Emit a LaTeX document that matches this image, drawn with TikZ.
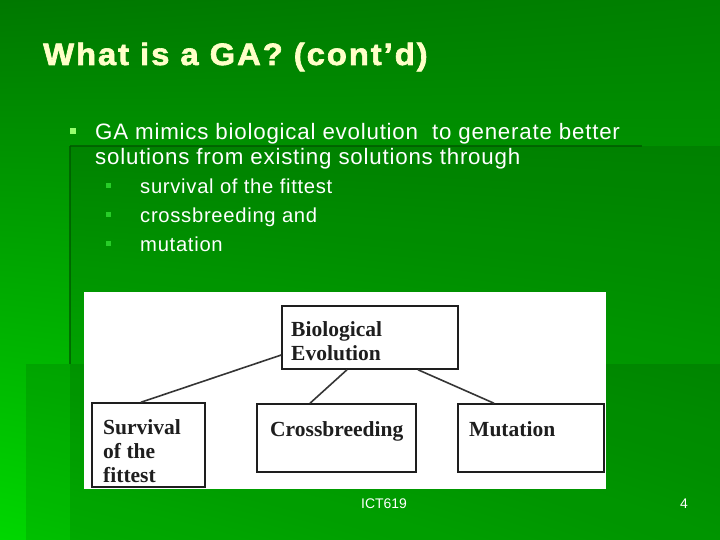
\documentclass[tikz,border=0pt]{standalone}
\usepackage{fontspec}
\usepackage{graphicx}
\usetikzlibrary{shadings}
\setmainfont{Liberation Sans}
\newfontfamily\titlefont[LetterSpace=6,FakeBold=2]{Liberation Sans}
\newfontfamily\bodyfont[LetterSpace=3.5]{Liberation Sans}
\newfontfamily\diagfont{Liberation Serif}
\newfontfamily\footfont{Liberation Sans}
\definecolor{titleyellow}{RGB}{255,255,200}
\definecolor{bgUL}{RGB}{0,120,0}
\definecolor{bgUR}{RGB}{0,128,0}
\definecolor{bgLL}{RGB}{0,215,0}
\definecolor{bgLR}{RGB}{0,185,0}
\definecolor{darkgreen}{RGB}{0,85,0}
\definecolor{bulletlight}{RGB}{150,255,110}
\definecolor{bulletmid}{RGB}{40,205,40}
\definecolor{diagink}{RGB}{30,30,30}
\tikzset{
  titletext/.style={font=\titlefont\bfseries\fontsize{31}{36}\selectfont, text=titleyellow, inner sep=0},
  bodytext/.style={font=\bodyfont\fontsize{22.4}{25}\selectfont, text=white, inner sep=0, align=left},
  subtext/.style={font=\bodyfont\fontsize{20.3}{29}\selectfont, text=white, inner sep=0, align=left},
  bulletA/.style={fill=bulletlight, inner sep=0, minimum size=5.5bp},
  bulletB/.style={fill=bulletmid, inner sep=0, minimum size=5bp},
  dbox/.style={draw=diagink, line width=1.5bp, fill=white, inner sep=0},
  dtext/.style={font=\diagfont\bfseries\fontsize{21.6}{24}\selectfont, text=diagink, inner sep=0, align=left},
  conn/.style={draw=diagink!90, line width=1.6bp},
  foot/.style={font=\footfont\fontsize{14}{16}\selectfont, text=white, inner sep=0},
  darkline/.style={draw=darkgreen, line width=2bp, opacity=0.7}
}
\begin{document}
\begin{tikzpicture}[x=1bp,y=-1bp]
\useasboundingbox (0,0) rectangle (720,540);
% background
\shade[upper left=bgUL, upper right=bgUR, lower left=bgLL, lower right=bgLR] (0,0) rectangle (720,540);
\fill[black,opacity=0.1] (70,146) rectangle (720,540);
\fill[black,opacity=0.1] (26,364) rectangle (720,540);
\draw[darkline] (70,146) -- (642,146);
\draw[darkline] (70,146) -- (70,364);
% title
\node[titletext, anchor=base west] (title) at (43,65) {\scalebox{1.06}[1]{What is a GA? (cont’d)}};
% bullets and text
\node[bulletA] (b0) at (72.8,130.8) {};
\node[bodytext, anchor=north west] (intro) at (95,123) {GA mimics biological evolution\ \ to generate better\\solutions from existing solutions through};
\node[bulletB] (b1) at (108,186) {};
\node[bulletB] (b2) at (108,215) {};
\node[bulletB] (b3) at (108,244) {};
\node[subtext, anchor=north west] (items) at (140,178.5) {survival of the fittest\\crossbreeding and\\mutation};
% diagram panel
\fill[white] (84,292) rectangle (606,489);
\node[dbox, minimum width=176bp, minimum height=63bp] (bio) at (370,337.5) {};
\node[dbox, minimum width=113bp, minimum height=84bp] (surv) at (148.5,445) {};
\node[dbox, minimum width=159bp, minimum height=68bp] (cross) at (336.5,438) {};
\node[dbox, minimum width=146bp, minimum height=68bp] (mut) at (531,438) {};
\node[dtext, anchor=north west] (biot) at (291,321.5) {Biological\\Evolution};
\node[dtext, anchor=north west] (survt) at (103,419.5) {Survival\\of the\\fittest};
\node[dtext, anchor=base west] (crosst) at (270,436) {Crossbreeding};
\node[dtext, anchor=base west] (mutt) at (469,436) {Mutation};
\draw[conn] ([yshift=-17.5bp]bio.west) -- ([xshift=-7.5bp]surv.north);
\draw[conn] ([xshift=-23bp]bio.south) -- ([xshift=-26.5bp]cross.north);
\draw[conn] ([xshift=48bp]bio.south) -- ([xshift=-37bp]mut.north);
% footer
\node[foot, anchor=base west] (ict) at (361,508) {ICT619};
\node[foot, anchor=base east] (page) at (688,508) {4};
\end{tikzpicture}
\end{document}
